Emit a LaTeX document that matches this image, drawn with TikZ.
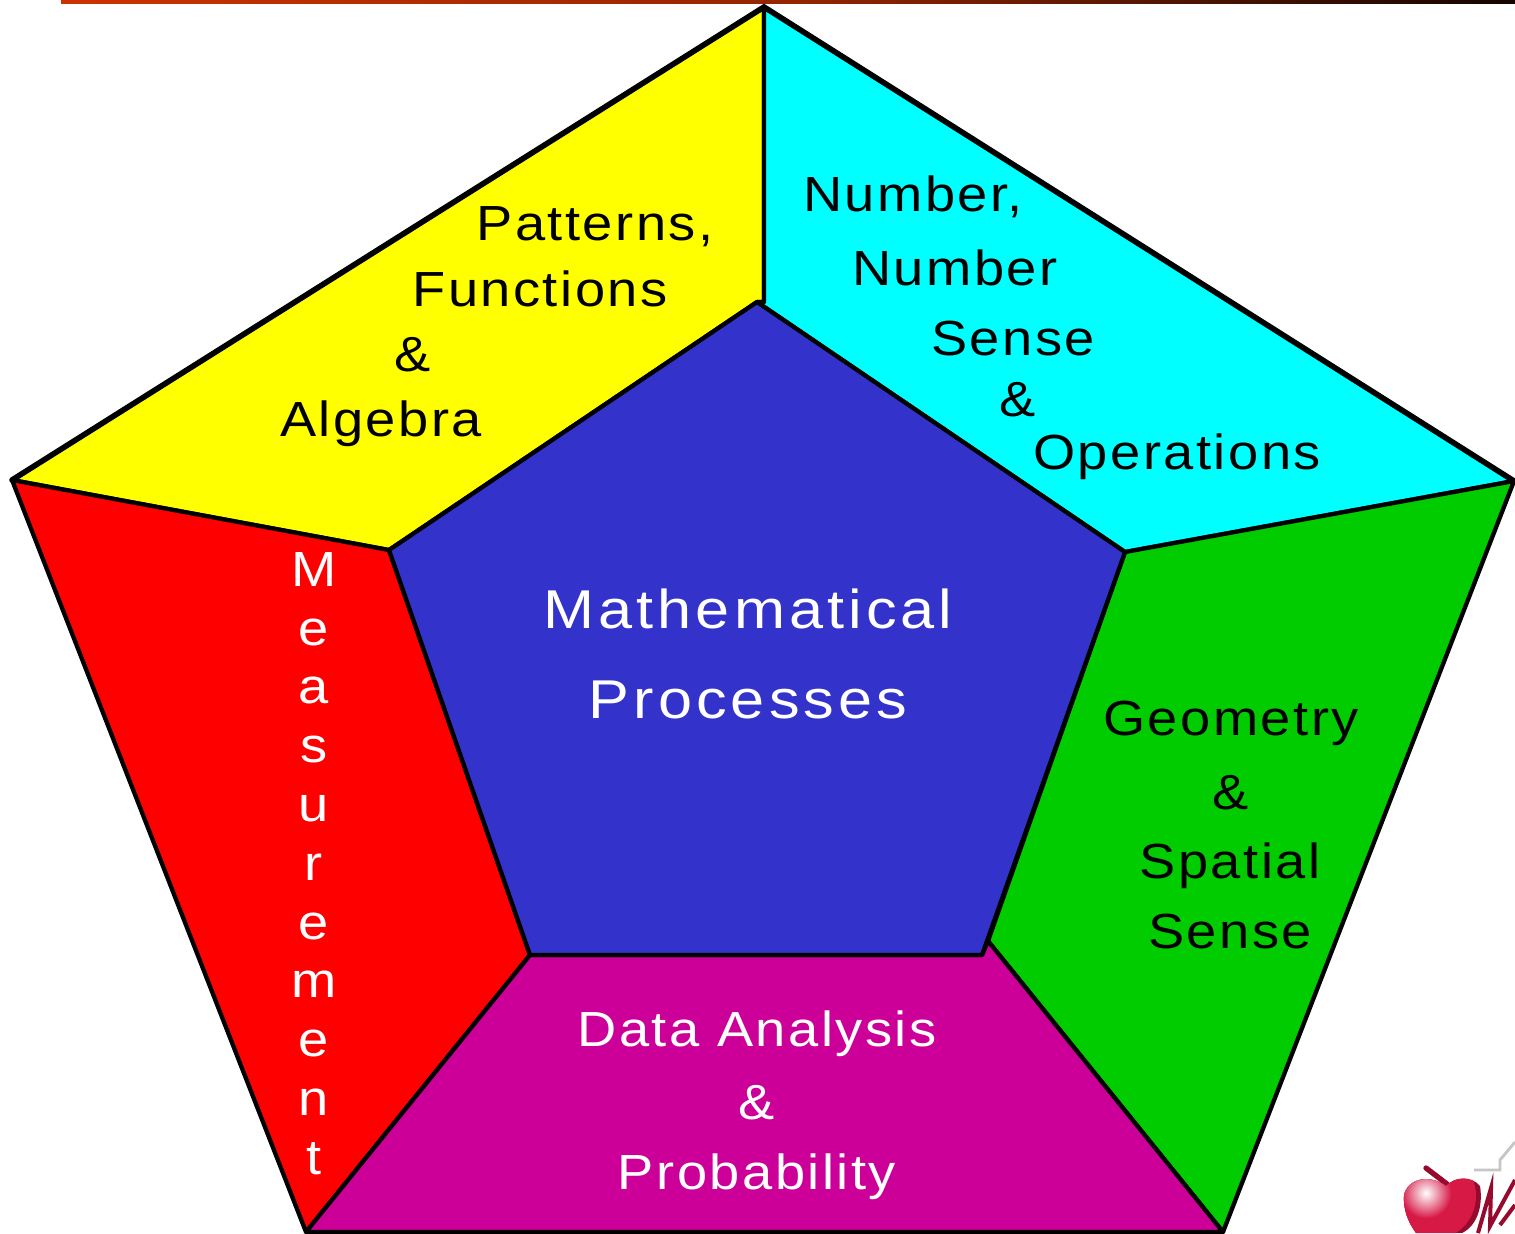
\documentclass[tikz,border=0pt]{standalone}
\usepackage{fontspec}
\setmainfont{Liberation Sans}
\newfontfamily\spaced[LetterSpace=5,FakeStretch=1.1]{Liberation Sans}
\newfontfamily\spacedbig[LetterSpace=7.5,FakeStretch=1.12]{Liberation Sans}
\usetikzlibrary{calc}
\definecolor{cyel}{RGB}{255,255,0}
\definecolor{ccya}{RGB}{0,255,255}
\definecolor{cred}{RGB}{255,0,0}
\definecolor{cgrn}{RGB}{0,204,0}
\definecolor{cmag}{RGB}{204,0,153}
\definecolor{cblu}{RGB}{51,51,204}
\definecolor{barA}{RGB}{204,51,0}
\definecolor{barB}{RGB}{20,5,0}
\definecolor{appleD}{RGB}{150,10,45}
\definecolor{appleM}{RGB}{215,25,70}
\definecolor{appleL}{RGB}{240,120,100}
\tikzset{
  face/.style={draw=black,line width=3.2pt,line join=round},
  rim/.style={draw=black,line width=4.2pt,line cap=round},
  lbl/.style={anchor=base,inner sep=0pt,font=\spaced\fontsize{37}{37}\selectfont},
  lblbig/.style={anchor=base,inner sep=0pt,font=\spacedbig\fontsize{41}{41}\selectfont},
  ink/.style={text=black},
  pale/.style={text=white}
}
\begin{document}
\begin{tikzpicture}[x=0.75pt,y=-0.75pt]
\useasboundingbox (0,0) rectangle (1515,1233);
\clip (0,0) rectangle (1515,1233);
\fill[white] (0,0) rectangle (1515,1233);
% top bar
\shade[left color=barA,right color=barB,middle color=barA!70!barB] (61,0) rectangle (1515,3.5);
% corners
\coordinate (T) at (764,7);
\coordinate (R) at (1514,481);
\coordinate (BR) at (1223,1232);
\coordinate (BL) at (306,1232);
\coordinate (L) at (12,480);
\coordinate (iT) at (757,302);
\coordinate (iR) at (1125,552);
\coordinate (iBR) at (982,955);
\coordinate (iBL) at (530,955);
\coordinate (iL) at (389,550);
\coordinate (mT) at (764,302);
\coordinate (gB) at (988,941);
% faces
\draw[face,fill=cyel] (T) -- (L) -- (iL) -- (iT) -- (mT) -- cycle;
\draw[face,fill=ccya] (T) -- (R) -- (iR) -- (iT) -- (mT) -- cycle;
\draw[rim] (L) -- (T) -- (R);
\draw[face,fill=cred] (L) -- (iL) -- (iBL) -- (BL) -- cycle;
\draw[face,fill=cgrn] (R) -- (iR) -- (gB) -- (BR) -- cycle;
\draw[face,fill=cmag] (iBL) -- (iBR) -- (gB) -- (BR) -- (BL) -- cycle;
\draw[face,fill=cblu] (iT) -- (iR) -- (iBR) -- (iBL) -- (iL) -- cycle;
% labels
\node[lbl,ink] (pa1) at (595,240) {Patterns,};
\node[lbl,ink] (pa2) at (540,306) {Functions};
\node[lbl,ink] (pa3) at (413,371) {\&};
\node[lbl,ink] (pa4) at (381,436) {Algebra};
\node[lbl,ink] (nu1) at (913,211) {Number,};
\node[lbl,ink] (nu2) at (955,285) {Number};
\node[lbl,ink] (nu3) at (1013,355) {Sense};
\node[lbl,ink] (nu4) at (1018,416) {\&};
\node[lbl,ink] (nu5) at (1177,469) {Operations};
\node[lblbig,pale] (ma1) at (748,628) {Mathematical};
\node[lblbig,pale] (ma2) at (748,718) {Processes};
\node[lbl,ink] (ge1) at (1231,735) {Geometry};
\node[lbl,ink] (ge2) at (1231,809) {\&};
\node[lbl,ink] (ge3) at (1230,878) {Spatial};
\node[lbl,ink] (ge4) at (1230,948) {Sense};
\node[lbl,pale] (da1) at (757,1046) {Data Analysis};
\node[lbl,pale] (da2) at (757,1119) {\&};
\node[lbl,pale] (da3) at (757,1189) {Probability};
\node[anchor=north,inner sep=0pt,text=white,align=center,
      font=\spaced\fontsize{37}{44.1}\selectfont] (me) at (314,552)
  {M\\e\\a\\s\\u\\r\\e\\m\\e\\n\\t};
% apple logo fragment
\draw[appleD,line width=4pt,line cap=round] (1426,1168) -- (1447,1184);
\draw[gray!45,line width=2.2pt] (1474,1170) -- (1500,1170) -- (1500,1160) -- (1515,1142);
\begin{scope}
\clip (1404,1195) .. controls (1408,1178) and (1430,1174) .. (1446,1186)
  .. controls (1455,1176) and (1472,1176) .. (1480,1186)
  .. controls (1483,1205) and (1478,1225) .. (1462,1233) -- (1416,1233)
  .. controls (1408,1222) and (1403,1210) .. (1404,1195) -- cycle;
\fill[appleD] (1400,1170) rectangle (1490,1233);
\fill[appleM] (1432,1196) circle (33pt);
\shade[inner color=white,middle color=appleL,outer color=appleM] (1426,1193) circle (19pt);
\end{scope}
\draw[appleD,line width=3pt] (1478,1233) -- (1491,1188) -- (1490,1226) -- (1515,1180);
\draw[appleD,line width=3pt] (1500,1225) -- (1515,1205);
\end{tikzpicture}
\end{document}
